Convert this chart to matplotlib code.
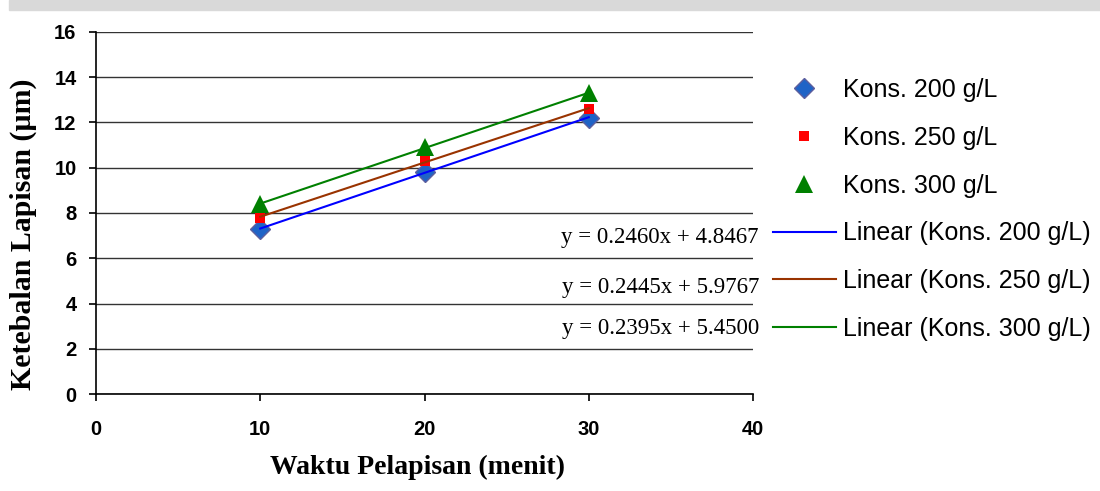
import numpy as np
import matplotlib
matplotlib.use("Agg")
from matplotlib import pyplot as plt
from matplotlib.patches import Rectangle

# Data (coating thickness vs plating time)
waktu = [10, 20, 30]
kons_200 = [7.3, 9.8, 12.22]
kons_250 = [7.8, 10.3, 12.6]
kons_300 = [8.4, 10.9, 13.3]

labels = ['Kons. 200 g/L', 'Kons. 250 g/L', 'Kons. 300 g/L']
# trendline equations as printed on the chart (order kept as in the original)
equations = ['y = 0.2460x + 4.8467', 'y = 0.2445x + 5.9767', 'y = 0.2395x + 5.4500']

x_ticks = [0, 10, 20, 30, 40]
y_ticks = [0, 2, 4, 6, 8, 10, 12, 14, 16]

# bold Arial-like tick labels
plt.rcParams['font.family'] = ['Liberation Sans', 'DejaVu Sans']
plt.rcParams['font.weight'] = 'bold'
plt.rcParams['xtick.labelsize'] = 14.5
plt.rcParams['ytick.labelsize'] = 14.5

fig = plt.figure(figsize=(11, 4.91), dpi=100)
ax = fig.add_axes([96 / 1100, 1 - 394 / 491, (753 - 96) / 1100, (394 - 32) / 491])

# light grey watermark strip at the top
fig.patches.append(Rectangle((9 / 1100, 1 - 10 / 491), 1, 10 / 491,
                             transform=fig.transFigure, color='#d9d9d9', zorder=0))

series = [kons_200, kons_250, kons_300]
marker_style = [
    dict(marker='D', ms=10, mfc='#1f63c6', mec='#5d5f9e', mew=1),
    dict(marker='s', ms=7.5, mfc='#ff0000', mec='#ff0000', mew=0),
    dict(marker='^', ms=13, mfc='#008000', mec='#008000', mew=0),
]
line_colors = ['#0000ff', '#993300', '#008000']

handles = []
for ys, st in zip(series, marker_style):
    h, = ax.plot(waktu, ys, ls='none', zorder=3, **st)
    handles.append(h)

xs = np.array(waktu, dtype=float)
line_handles = []
for ys, c in zip(series, line_colors):
    m, b = np.polyfit(xs, ys, 1)
    h, = ax.plot(xs, m * xs + b, color=c, lw=1.5, zorder=4)
    line_handles.append(h)

ax.set_xlim(0, 40)
ax.set_ylim(0, 16)
ax.set_xticks(x_ticks)
ax.set_yticks(y_ticks)
ax.yaxis.grid(True, color='#333333', lw=1)
ax.set_axisbelow(True)
for s in ['top', 'right']:
    ax.spines[s].set_visible(False)
ax.spines['left'].set_linewidth(1.2)
ax.spines['bottom'].set_linewidth(1.2)
ax.tick_params(axis='both', direction='out', length=5, width=1.2)
ax.tick_params(axis='x', pad=14)
ax.tick_params(axis='y', pad=9)

ax.set_xlabel('Waktu Pelapisan (menit)', family='Liberation Serif',
              fontweight='bold', fontsize=20, va='center')
ax.xaxis.set_label_coords(0.4886, -0.204)
ax.set_ylabel('Ketebalan Lapisan (µm)', family='Liberation Serif',
              fontweight='bold', fontsize=21.5, va='center')
ax.yaxis.set_label_coords(-0.111, 0.442)

# trendline equation labels, sitting just left of the legend
eq_y = [6.9, 4.7, 2.9]
for txt, yv in zip(equations, eq_y):
    ax.text(1.009, yv, txt, transform=ax.get_yaxis_transform(), ha='right',
            va='center', family='Liberation Serif', fontweight='normal',
            fontsize=16.5, clip_on=False)

leg_labels = labels + ['Linear (' + l + ')' for l in labels]
ax.legend(handles + line_handles, leg_labels,
          loc='upper left', bbox_to_anchor=(773 / 1100, 1 - 78 / 491),
          bbox_transform=fig.transFigure, frameon=False,
          prop={'family': 'Liberation Sans', 'size': 18, 'weight': 'normal'},
          handlelength=2.5, handletextpad=0.3, labelspacing=0.95,
          borderpad=0, borderaxespad=0)

fig.savefig('out.png', dpi=100)
